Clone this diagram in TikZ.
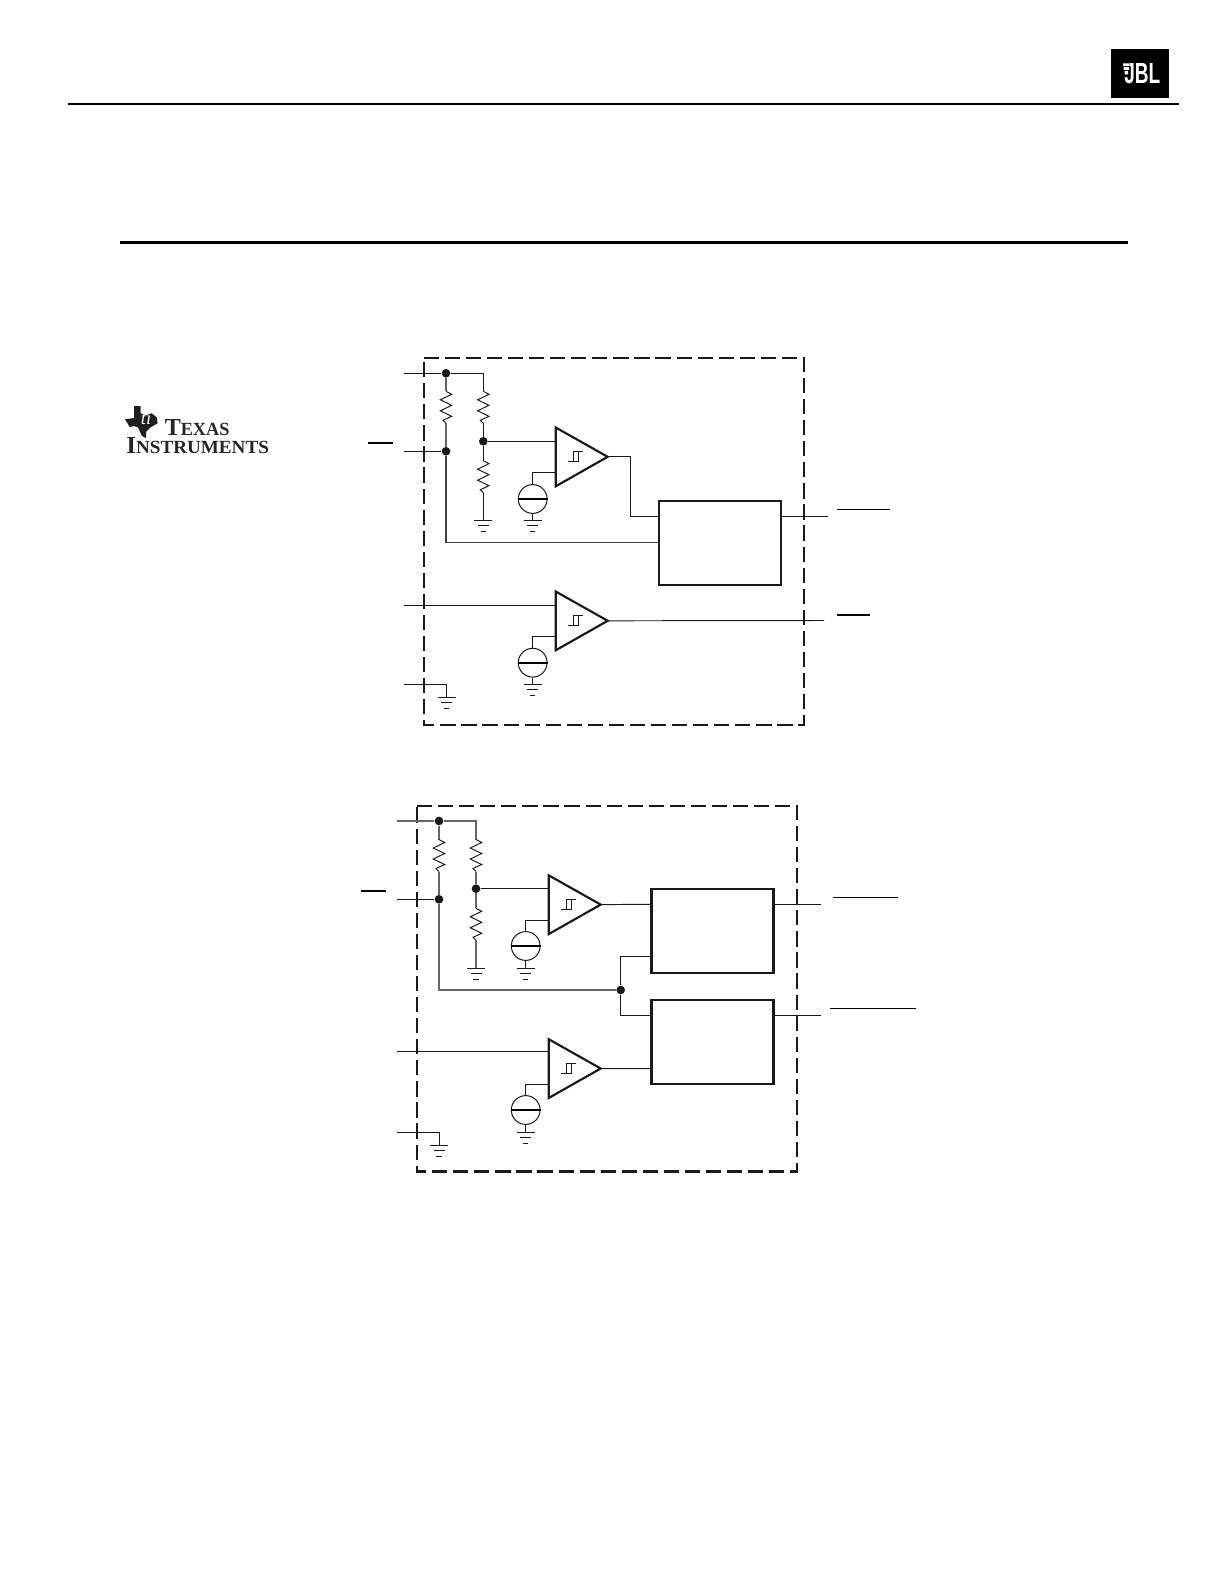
\documentclass[tikz,border=0pt]{standalone}
\usepackage{fontspec}
\setmainfont{Liberation Serif}
\newfontfamily\jblfont{Liberation Sans}
\usetikzlibrary{calc}
\tikzset{
  x=0.75pt,y=-0.75pt,
  wire/.style={draw=black!90,line width=0.72pt,line cap=butt,line join=miter},
  rwire/.style={draw=black!60,line width=0.85pt},
  heavy/.style={draw=black!90,line width=1.5pt},
  boundary/.style={draw=black!90,line width=1.65pt,dash pattern=on 11.4pt off 4.4pt},
  blockbox/.style={draw=black!90,line width=1.6pt,fill=white,rectangle,minimum width=91.5pt,minimum height=63pt,inner sep=0pt},
  junction/.style={circle,fill=black!90,draw=none,minimum size=6.5pt,inner sep=0pt},
  overbar/.style={draw=black,line width=0.8pt},
  overbarthick/.style={draw=black,line width=1.5pt},
  cmpbody/.style={draw=black!90,line width=1.6pt,line join=miter,fill=white},
  srcbody/.style={circle,draw=black!90,line width=0.75pt,minimum size=21.6pt,inner sep=0pt,fill=white},
}
% resistor between two vertically aligned named points
\newcommand{\myres}[3]{%
 \draw[wire] (#1) -- ++(5.7,3) -- ++(-11.4,5.5) -- ++(11.4,5.5) -- ++(-11.4,5.5) -- ++(11.4,5.5) -- ++(-8.7,4) -- (#2);}
\newcommand{\mygnd}[1]{%
 \draw[wire] ($(#1)+(-9,0)$) -- ($(#1)+(9,0)$);
 \draw[wire] ($(#1)+(-5.5,5.5)$) -- ($(#1)+(5.5,5.5)$);
 \draw[wire] ($(#1)+(-2.7,11)$) -- ($(#1)+(2.7,11)$);}
% comparator: name, left x, top y
\newcommand{\mycmp}[3]{%
 \coordinate (#1-a) at (#2,#3);
 \coordinate (#1-b) at ($(#2,#3)+(0,58.8)$);
 \coordinate (#1-out) at ($(#2,#3)+(52,29.3)$);
 \draw[cmpbody] (#1-a) -- (#1-out) -- (#1-b) -- cycle;
 \draw[wire] ($(#2,#3)+(12.6,34)$) -- ++(9.7,0) -- ++(0,-10) -- ++(-4.6,0) -- ++(0,10)
   ($(#2,#3)+(22.3,24)$) -- ++(4.6,0);}
% reference source: name, centre x, centre y
\newcommand{\mysrc}[3]{%
 \node[srcbody] (#1) at (#2,#3) {};
 \draw[draw=black,line width=1.5pt] (#1.west) -- (#1.east);}
\begin{document}
\begin{tikzpicture}
\useasboundingbox[fill=white] (0,0) rectangle (1224,1584);

% header rules
\coordinate (ruleAa) at (67.7,103.7); \coordinate (ruleAb) at (1178.6,103.7);
\coordinate (ruleBa) at (120.2,242.3); \coordinate (ruleBb) at (1127.8,242.3);
\draw[draw=black,line width=1.75pt] (ruleAa) -- (ruleAb);
\draw[draw=black,line width=2.5pt] (ruleBa) -- (ruleBb);

% JBL logo
\fill[black] (1111,49) rectangle (1169,98);
\node[inner sep=0pt,text=white,anchor=base west] (jbl) at (1124,83.3)
  {\jblfont\bfseries\resizebox{27pt}{15pt}{JBL}};
\fill[black] (1122,62) rectangle (1130,76);
\fill[white] (1123,63.5) rectangle (1129.5,66) (1123.5,67) rectangle (1129,70) (1124.5,71) rectangle (1128,74.5);

% TI logo
\fill[black!88] (134,406) -- (140.7,406) -- (140.7,413.3) -- (146,415.3) -- (151.7,413.3) -- (156.7,417.3) -- (157.7,423.3)
  -- (150.7,427.3) -- (146,431.7) -- (146,438.3) -- (141.7,435.7) -- (138,427.3) -- (133.3,426) -- (130,427.3) -- (125,419.3) -- (134,418) -- cycle;
\node[inner sep=0pt,text=white] (tiglyph) at (146,418) {\fontsize{14pt}{14pt}\selectfont\itshape ti};
\node[inner sep=0pt,anchor=base west,text=black!85] (tiA) at (164.5,435.7)
  {\resizebox{48.5pt}{12pt}{\bfseries T\fontsize{7.6pt}{8pt}\selectfont EXAS}};
\node[inner sep=0pt,anchor=base west,text=black!85] (tiB) at (126,453)
  {\resizebox{107pt}{12pt}{\bfseries I\fontsize{7.6pt}{8pt}\selectfont NSTRUMENTS}};

%%%%%%% upper diagram
\coordinate (ua) at (423.7,358); \coordinate (ub) at (804,358);
\coordinate (uc) at (804,724.7); \coordinate (ud) at (423.7,724.7);
\draw[boundary] (ua) -- (ub) -- (uc) -- (ud) -- cycle;

\node[junction] (uj1) at (446,373.3) {};
\node[junction] (uj2) at (446,451.3) {};
\node[junction] (uj3) at (483.3,441.3) {};
\coordinate (uvcc) at (404,373.3);
\coordinate (uen) at (404,451.3);
\coordinate (utr) at (483.3,373.3);
\coordinate (urat) at (446,391.3); \coordinate (urab) at (446,423.3);
\coordinate (urbt) at (483.3,391.3); \coordinate (urbb) at (483.3,423.3);
\coordinate (urct) at (483.3,460.7); \coordinate (urcb) at (483.3,492.7);
\coordinate (ug1) at (483.3,520);
\draw[wire] (uvcc) -- (uj1) -- (utr) -- (urbt);
\draw[wire] (uen) -- (uj2);
\draw[rwire] (uj1) -- (urat); \draw[rwire] (urab) -- (uj2);
\myres{urat}{urab}{}
\myres{urbt}{urbb}{}
\myres{urct}{urcb}{}
\draw[wire] (urbb) -- (uj3) -- (urct);
\draw[wire] (urcb) -- (ug1);
\mygnd{ug1}

\mycmp{uc1}{555.7}{427.5}
\mycmp{uc2}{555.7}{591.5}
\mysrc{us1}{532.7}{499}
\mysrc{us2}{532.7}{662.7}
\coordinate (uc1ref) at (555.7,472.3); \coordinate (uc2ref) at (555.7,636.3);
\coordinate (uc1in) at (555.7,441.3);
\coordinate (ug2) at (532.7,520); \coordinate (ug3) at (532.7,684.3);
\draw[wire] (uj3) -- (uc1in);
\draw[wire] (us1.north) |- (uc1ref);
\draw[wire] (us2.north) |- (uc2ref);
\draw[wire] (us1.south) -- (ug2); \mygnd{ug2}
\draw[wire] (us2.south) -- (ug3); \mygnd{ug3}

\node[blockbox] (ub1) at (720,543) {};
\coordinate (ub1i1) at (ub1.west |- 0,516.3);
\coordinate (ub1i2) at (ub1.west |- 0,542.3);
\coordinate (ub1o) at (ub1.east |- 0,516.3);
\coordinate (uout1) at (828,516.3);
\draw[wire] (uc1-out) -| (630.3,516.3) -- (ub1i1);
\draw[rwire,draw=black!75] (uj2) |- (ub1i2);
\draw[wire] (ub1o) -- (uout1);

\coordinate (uin2) at (404,605.3); \coordinate (uc2in) at (555.7,605.3);
\draw[wire] (uin2) -- (uc2in);
\coordinate (uout2) at (824,620.5);
\draw[wire] (uc2-out) -- (uout2);
\coordinate (ugndin) at (404,684.3); \coordinate (ug4) at (446.7,697.3);
\draw[wire] (ugndin) -| (ug4); \mygnd{ug4}

\coordinate (uba) at (368,443); \coordinate (ubb) at (393,443);
\coordinate (ubc) at (837,509.3); \coordinate (ubd) at (890,509.3);
\coordinate (ube) at (837,615); \coordinate (ubf) at (870,615);
\draw[overbarthick] (uba) -- (ubb);
\draw[overbar] (ubc) -- (ubd);
\draw[overbarthick] (ube) -- (ubf);

%%%%%%% lower diagram
\coordinate (la) at (417,805.7); \coordinate (lb) at (797,805.7);
\coordinate (lc) at (797,1171.5); \coordinate (ld) at (417,1171.5);
\draw[boundary] (la) -- (lb) -- (lc) -- (ld) -- cycle;

\node[junction] (lj1) at (439,821) {};
\node[junction] (lj2) at (439,899.3) {};
\node[junction] (lj3) at (476,888.7) {};
\node[junction] (lj4) at (620.7,990) {};
\coordinate (lvcc) at (396.7,821);
\coordinate (len) at (396.7,899.3);
\coordinate (ltr) at (476,821);
\coordinate (lrat) at (439,839.5); \coordinate (lrab) at (439,871.5);
\coordinate (lrbt) at (476,839.5); \coordinate (lrbb) at (476,871.5);
\coordinate (lrct) at (476,908.3); \coordinate (lrcb) at (476,940.3);
\coordinate (lg1) at (476,968.3);
\draw[rwire] (lvcc) -- (lj1) -- (ltr) -- (lrbt);
\draw[wire] (len) -- (lj2);
\draw[rwire] (lj1) -- (lrat); \draw[rwire] (lrab) -- (lj2);
\myres{lrat}{lrab}{}
\myres{lrbt}{lrbb}{}
\myres{lrct}{lrcb}{}
\draw[rwire] (lrbb) -- (lj3) -- (lrct);
\draw[rwire] (lrcb) -- (lg1);
\mygnd{lg1}

\mycmp{lc1}{548.7}{875.3}
\mycmp{lc2}{548.7}{1039.2}
\mysrc{ls1}{525.7}{946}
\mysrc{ls2}{525.7}{1110}
\coordinate (lc1ref) at (548.7,920.3); \coordinate (lc2ref) at (548.7,1084.4);
\coordinate (lc1in) at (548.7,888.7);
\coordinate (lg2) at (525.7,968.3); \coordinate (lg3) at (525.7,1132);
\draw[wire] (lj3) -- (lc1in);
\draw[wire] (ls1.north) |- (lc1ref);
\draw[wire] (ls2.north) |- (lc2ref);
\draw[wire] (ls1.south) -- (lg2); \mygnd{lg2}
\draw[wire] (ls2.south) -- (lg3); \mygnd{lg3}

\node[blockbox] (lb1) at (712.5,931) {};
\node[blockbox] (lb2) at (712.5,1041.8) {};
\coordinate (lb1i1) at (lb1.west |- 0,904.3);
\coordinate (lb1i2) at (lb1.west |- 0,956.3);
\coordinate (lb1o) at (lb1.east |- 0,904.3);
\coordinate (lb2i1) at (lb2.west |- 0,1015.3);
\coordinate (lb2i2) at (lb2.west |- 0,1068.7);
\coordinate (lb2o) at (lb2.east |- 0,1015.3);
\coordinate (lout1) at (821,904.3); \coordinate (lout2) at (821,1015.3);
\draw[wire] (lc1-out) -- (lb1i1);
\draw[wire] (lc2-out) -- (lb2i2);
\draw[rwire] (lj2) |- (lj4);
\draw[wire] (lj4) |- (lb1i2);
\draw[wire] (lj4) |- (lb2i1);
\draw[wire] (lb1o) -- (lout1);
\draw[wire] (lb2o) -- (lout2);

\coordinate (lin2) at (396.7,1051.8); \coordinate (lc2in) at (548.7,1051.8);
\draw[wire] (lin2) -- (lc2in);
\coordinate (lgndin) at (396.7,1132); \coordinate (lg4) at (439,1145);
\draw[wire] (lgndin) -| (lg4); \mygnd{lg4}

\coordinate (lba) at (361,890.7); \coordinate (lbb) at (386,890.7);
\coordinate (lbc) at (833,897.3); \coordinate (lbd) at (897.7,897.3);
\coordinate (lbe) at (830,1008.3); \coordinate (lbf) at (915.7,1008.3);
\draw[overbarthick] (lba) -- (lbb);
\draw[overbar] (lbc) -- (lbd);
\draw[overbar] (lbe) -- (lbf);
\end{tikzpicture}
\end{document}
